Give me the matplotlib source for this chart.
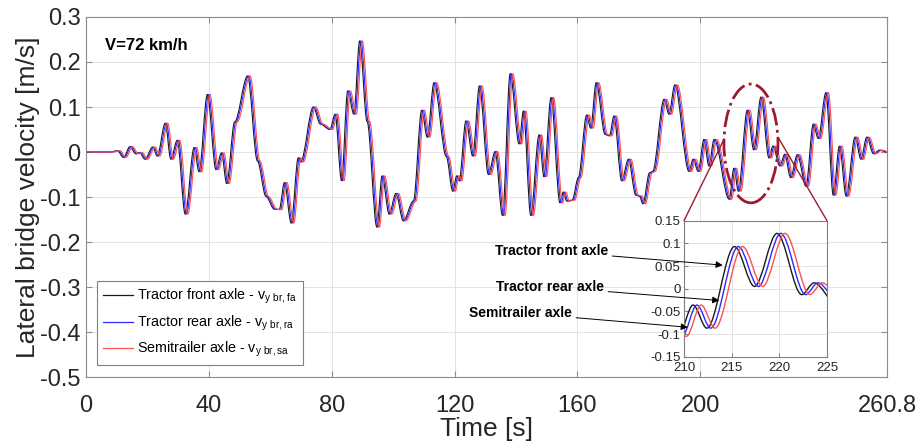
import matplotlib
matplotlib.use("Agg")
import matplotlib.pyplot as plt
from matplotlib.path import Path
from matplotlib.patches import PathPatch, Ellipse, ConnectionPatch
from matplotlib.lines import Line2D

plt.rcParams['font.family'] = ['Liberation Sans', 'DejaVu Sans']
plt.rcParams['axes.unicode_minus'] = False
plt.rcParams['mathtext.fontset'] = 'custom'
plt.rcParams['mathtext.rm'] = 'Liberation Sans'

# ----- Data (tractor front axle, extrema / shoulders)
t_front = [0.0, 8.0, 10.2, 12.2, 14.3, 16.2, 17.4, 19.2, 21.7, 23.2,
           25.8, 27.6, 29.7, 32.3, 35.2, 36.8, 39.5, 42.3, 44.1, 45.8,
           48.4, 52.6, 55.8, 58.6, 61.3, 62.9, 64.6, 66.8, 69.1, 69.9,
           74.0, 76.3, 79.4, 81.1, 83.2, 85.2, 87.2, 89.1, 91.5, 94.7,
           96.4, 98.7, 100.9, 103.3, 106.6, 109.3, 111.1, 113.3, 117.3, 119.4,
           120.7, 121.5, 123.7, 125.9, 128.1, 131.0, 133.2, 135.6, 138.1, 141.0,
           142.4, 144.8, 147.5, 149.1, 151.4, 154.3, 155.4, 156.5, 158.3, 160.3,
           163.0, 164.3, 166.1, 169.0, 170.4, 171.9, 174.4, 176.6, 179.0, 180.2,
           181.3, 183.5, 184.5, 188.2, 189.8, 191.7, 196.3, 197.7, 199.3, 201.2,
           202.8, 204.5, 209.4, 210.95, 212.4, 215.3, 217.4, 219.75, 222.35, 223.65,
           225.9, 227.5, 229.4, 231.6, 234.4, 236.8, 238.4, 240.9, 243.3, 245.3,
           247.5, 250.4, 252.3, 254.2, 256.4, 258.3, 260.8]
v_front = [0.0, 0.0, 0.003, -0.012, 0.012, -0.004, -0.001, -0.016, 0.011, -0.009,
           0.064, -0.016, 0.026, -0.138, 0.010, -0.044, 0.128, -0.039, -0.002, -0.070,
           0.067, 0.169, -0.020, -0.099, -0.127, -0.128, -0.068, -0.158, -0.013, -0.022,
           0.100, 0.062, 0.050, 0.084, -0.064, 0.136, 0.084, 0.247, 0.068, -0.167,
           -0.053, -0.138, -0.092, -0.153, -0.109, 0.093, 0.033, 0.154, -0.010, -0.087,
           -0.053, -0.064, 0.069, -0.009, 0.147, -0.050, 0.001, -0.141, 0.174, 0.018,
           0.091, -0.141, 0.038, -0.055, 0.121, -0.113, -0.089, -0.109, -0.107, -0.057,
           0.082, 0.053, 0.154, 0.039, 0.036, 0.080, -0.064, -0.016, -0.096, -0.098,
           -0.115, -0.046, -0.043, 0.117, 0.084, 0.149, -0.043, -0.016, -0.043, 0.028,
           -0.031, 0.028, -0.105, -0.036, -0.087, 0.093, 0.005, 0.122, -0.013, 0.013,
           -0.031, -0.005, -0.057, -0.006, -0.076, 0.062, 0.030, 0.132, -0.096, 0.013,
           -0.098, 0.033, -0.016, 0.033, -0.004, 0.004, 0.0]

# time lags of the other axles [s]
lag_rear = 0.4
lag_semi = 0.85

labels = [r'Tractor front axle - v$_{\mathregular{y\ br,fa}}$',
          r'Tractor rear axle - v$_{\mathregular{y\ br,ra}}$',
          r'Semitrailer axle - v$_{\mathregular{y\ br,sa}}$']
colors = ['#1a1a1a', '#2b2bff', '#ff5050']

x_ticks = [0, 40, 80, 120, 160, 200, 260.8]
x_ticklabels = ['0', '40', '80', '120', '160', '200', '260.8']
y_ticks = [-0.5, -0.4, -0.3, -0.2, -0.1, 0, 0.1, 0.2, 0.3]
y_ticklabels = ['-0.5', '-0.4', '-0.3', '-0.2', '-0.1', '0', '0.1', '0.2', '0.3']
ins_x_ticks = [210, 215, 220, 225]
ins_y_ticks = [-0.15, -0.1, -0.05, 0, 0.05, 0.1, 0.15]
ins_y_ticklabels = ['-0.15', '-0.1', '-0.05', '0', '0.05', '0.1', '0.15']


# smooth curve through the extrema (horizontal tangents at each read point)
def smoothPath(t, v):
    verts = [(t[0], v[0])]
    codes = [Path.MOVETO]
    for i in range(1, len(t)):
        dt = t[i] - t[i-1]
        verts += [(t[i-1] + dt/3, v[i-1]), (t[i] - dt/3, v[i]), (t[i], v[i])]
        codes += [Path.CURVE4]*3
    return Path(verts, codes)


def drawSeries(ax, lw):
    shifts = [0.0, lag_rear, lag_semi]
    order = [0, 2, 1]
    for k in order:
        tt = [ti + shifts[k] for ti in t_front]
        patch = PathPatch(smoothPath(tt, v_front), fill=False,
                          edgecolor=colors[k], lw=lw, zorder=2+k*0.1)
        ax.add_patch(patch)


def styleAxes(ax, spine_color):
    for s in ax.spines.values():
        s.set_color(spine_color)
        s.set_linewidth(0.8)
    ax.grid(True, color='#e3e3e3', lw=0.7)
    ax.set_axisbelow(True)


fig = plt.figure(figsize=(9.19, 4.45), dpi=100)
ax = fig.add_axes([0.0936, 0.1528, 0.8716, 0.809])
drawSeries(ax, 0.8)
ax.set_xlim(0, 260.8)
ax.set_ylim(-0.5, 0.3)
ax.set_xticks(x_ticks)
ax.set_xticklabels(x_ticklabels)
ax.set_yticks(y_ticks)
ax.set_yticklabels(y_ticklabels)
styleAxes(ax, '#8c8c8c')
ax.tick_params(direction='in', top=True, right=True, length=4,
               color='#8c8c8c', labelcolor='#262626', labelsize=17)
ax.tick_params(axis='x', pad=13)
ax.tick_params(axis='y', pad=4)
ax.set_xlabel('Time [s]', fontsize=19, color='#262626')
ax.set_ylabel('Lateral bridge velocity [m/s]', fontsize=19, color='#262626')
ax.xaxis.set_label_coords(0.5, -0.11)
ax.yaxis.set_label_coords(-0.058, 0.5)

ax.text(6.2, 0.236, 'V=72 km/h', fontsize=12, fontweight='bold',
        va='center', ha='left', color='black')

handles = [Line2D([], [], color=c, lw=0.9) for c in colors]
leg = ax.legend(handles, labels, loc='lower left', bbox_to_anchor=(0.0137, 0.033),
                borderaxespad=0, fontsize=10.3, handlelength=2.1, handletextpad=0.3,
                labelspacing=0.5, fancybox=False, framealpha=1, edgecolor='#808080')
leg.get_frame().set_linewidth(0.8)

# dashed-dot ellipse marking the zoomed region
ell = Ellipse((216.5, 0.019), 17.6, 0.264, fill=False, edgecolor='#9b1b30',
              lw=2.0, ls='-.', zorder=5)
ax.add_patch(ell)

# ----- Inset
ins = fig.add_axes([0.7443, 0.1984, 0.1556, 0.3056], zorder=10)
ins.set_facecolor('white')
drawSeries(ins, 1.0)
ins.set_xlim(210, 225)
ins.set_ylim(-0.15, 0.15)
ins.set_xticks(ins_x_ticks)
ins.set_yticks(ins_y_ticks)
ins.set_yticklabels(ins_y_ticklabels)
styleAxes(ins, '#808080')
ins.tick_params(direction='in', length=3, color='#808080',
                labelcolor='#262626', labelsize=9.5)
ins.tick_params(axis='x', pad=4)
ins.tick_params(axis='y', pad=2.5)

for xyA, xyB in [((207.7, 0.028), (0, 1)), ((225.3, 0.033), (1, 1))]:
    con = ConnectionPatch(xyA=xyA, coordsA=ax.transData, xyB=xyB,
                          coordsB=ins.transAxes, color='#9b1b30', lw=1.0)
    fig.add_artist(con)

# arrows naming the axles in the inset
notes = [('Tractor front axle', (214.06, 0.052), (608, 251)),
         ('Tractor rear axle', (213.7, -0.026), (604, 287)),
         ('Semitrailer axle', (210.4, -0.085), (572, 313))]
for txt, xy, pxy in notes:
    ins.annotate(txt, xy=xy, xycoords='data',
                 xytext=(pxy[0]/919, (445 - pxy[1])/445), textcoords='figure fraction',
                 ha='right', va='center', fontsize=10, fontweight='bold',
                 annotation_clip=False,
                 arrowprops=dict(arrowstyle='-|>', color='black', lw=0.7,
                                 mutation_scale=10, shrinkA=1, shrinkB=0))

fig.savefig('out.png', dpi=100)
